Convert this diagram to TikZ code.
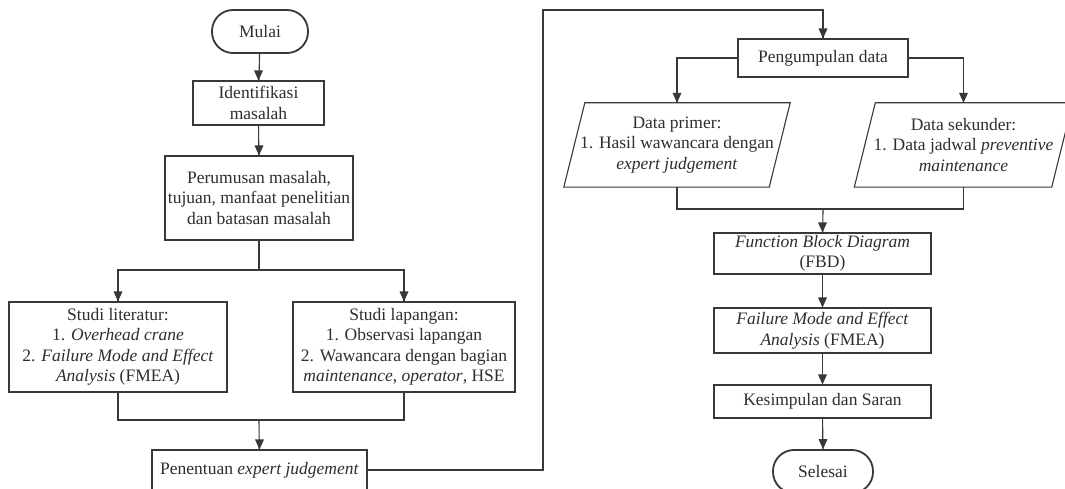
\documentclass[tikz,border=0pt]{standalone}
\usepackage{fontspec}
\setmainfont{Liberation Serif}
\definecolor{lncol}{gray}{0.22}
\definecolor{txcol}{gray}{0.18}
\tikzset{
  base/.style={inner sep=0pt, align=center, text=txcol, font=\fontsize{17.5}{20.5}\selectfont},
  box/.style={base, draw=lncol, line width=1.1pt},
  term/.style={base, draw=lncol, line width=1.8pt, rounded corners=21pt},
  io/.style={base},
  plain/.style={draw=lncol, line width=1.1pt},
  arr/.style={plain},
  tipfill/.style={fill=lncol, draw=none},
}
\newcommand\mytipdown[1]{\path[tipfill] (#1) -- ++(-4.5,10) -- ++(9,0) -- cycle;}
\begin{document}
\begin{tikzpicture}[x=1pt,y=1pt]
\useasboundingbox (0,0) rectangle (1065,488);
\fill[white] (0,0) rectangle (1065,488);
% left column
\node[term, minimum width=96pt, minimum height=43pt] (mulai) at (260,456.5) {Mulai};
\node[box, minimum width=131pt, minimum height=44pt] (ident) at (258.5,385) {Identifikasi\\masalah};
\node[box, minimum width=188pt, minimum height=84pt] (perum) at (259,290) {Perumusan masalah,\\tujuan, manfaat penelitian\\dan batasan masalah};
\node[box, minimum width=218pt, minimum height=90pt] (lit) at (118,141) {Studi literatur:\\1. \textit{Overhead crane}\\2. \textit{Failure Mode and Effect}\\\textit{Analysis} (FMEA)};
\node[box, minimum width=222pt, minimum height=90pt] (lap) at (404,141) {Studi lapangan:\\1. Observasi lapangan\\2. Wawancara dengan bagian\\\textit{maintenance}, \textit{operator}, HSE};
\node[box, minimum width=215pt, minimum height=40pt] (pen) at (259.5,18) {Penentuan \textit{expert judgement}};
\coordinate (br1) at (259,218);
\coordinate (jn1) at (259,68);
\coordinate (lpA) at (543,18);
\coordinate (lpB) at (543,478);
% right column
\node[box, minimum width=170pt, minimum height=38pt] (peng) at (823,430) {Pengumpulan data};
\node[io, minimum width=205pt, minimum height=84pt] (dp) at (677,343) {Data primer:\\1. Hasil wawancara dengan\\\textit{expert judgement}};
\draw[plain] ([xshift=-10.5pt]dp.south west) -- ([xshift=-10.5pt]dp.south east) -- ([xshift=10.5pt]dp.north east) -- ([xshift=10.5pt]dp.north west) -- cycle;
\node[io, minimum width=197pt, minimum height=84pt] (ds) at (963.5,343) {Data sekunder:\\1. Data jadwal \textit{preventive}\\\textit{maintenance}};
\begin{scope}
\clip (0,0) rectangle (1065,488);
\draw[plain] ([xshift=-10.5pt]ds.south west) -- ([xshift=-10.5pt]ds.south east) -- ([xshift=10.5pt]ds.north east) -- ([xshift=10.5pt]ds.north west) -- cycle;
\end{scope}
\node[box, minimum width=217pt, minimum height=41pt] (fbd) at (822.5,234.5) {\textit{Function Block Diagram}\\(FBD)};
\node[box, minimum width=217pt, minimum height=45pt] (fmea) at (822.5,157.5) {\textit{Failure Mode and Effect}\\\textit{Analysis} (FMEA)};
\node[box, minimum width=217pt, minimum height=33pt] (kes) at (822.5,86.5) {Kesimpulan dan Saran};
\node[term, minimum width=100pt, minimum height=43pt] (sel) at (823,16.5) {Selesai};
\coordinate (jn2) at (823,279);
% connectors
\draw[arr] (mulai) -- (ident);
\draw[arr] (ident) -- (perum);
\draw[plain] (perum) -- (br1);
\draw[arr] (br1) -| (lit);
\draw[arr] (br1) -| (lap);
\draw[plain] (lit) |- (jn1);
\draw[plain] (lap) |- (jn1);
\draw[arr] (jn1) -- (pen);
\draw[arr] (pen.east) -- (lpA) -- (lpB) -| (peng);
\draw[arr] (peng.west) -| (dp);
\draw[arr] (peng.east) -| (ds);
\draw[plain] (dp) |- (jn2);
\draw[plain] (ds) |- (jn2);
\draw[arr] (jn2) -- (fbd);
\draw[arr] (fbd) -- (fmea);
\draw[arr] (fmea) -- (kes);
\draw[arr] (kes) -- (sel);
% arrowheads
\mytipdown{ident.north}
\mytipdown{perum.north}
\mytipdown{lit.north}
\mytipdown{lap.north}
\mytipdown{pen.north}
\mytipdown{peng.north}
\mytipdown{dp.north}
\mytipdown{ds.north}
\mytipdown{fbd.north}
\mytipdown{fmea.north}
\mytipdown{kes.north}
\mytipdown{sel.north}
\end{tikzpicture}
\end{document}
